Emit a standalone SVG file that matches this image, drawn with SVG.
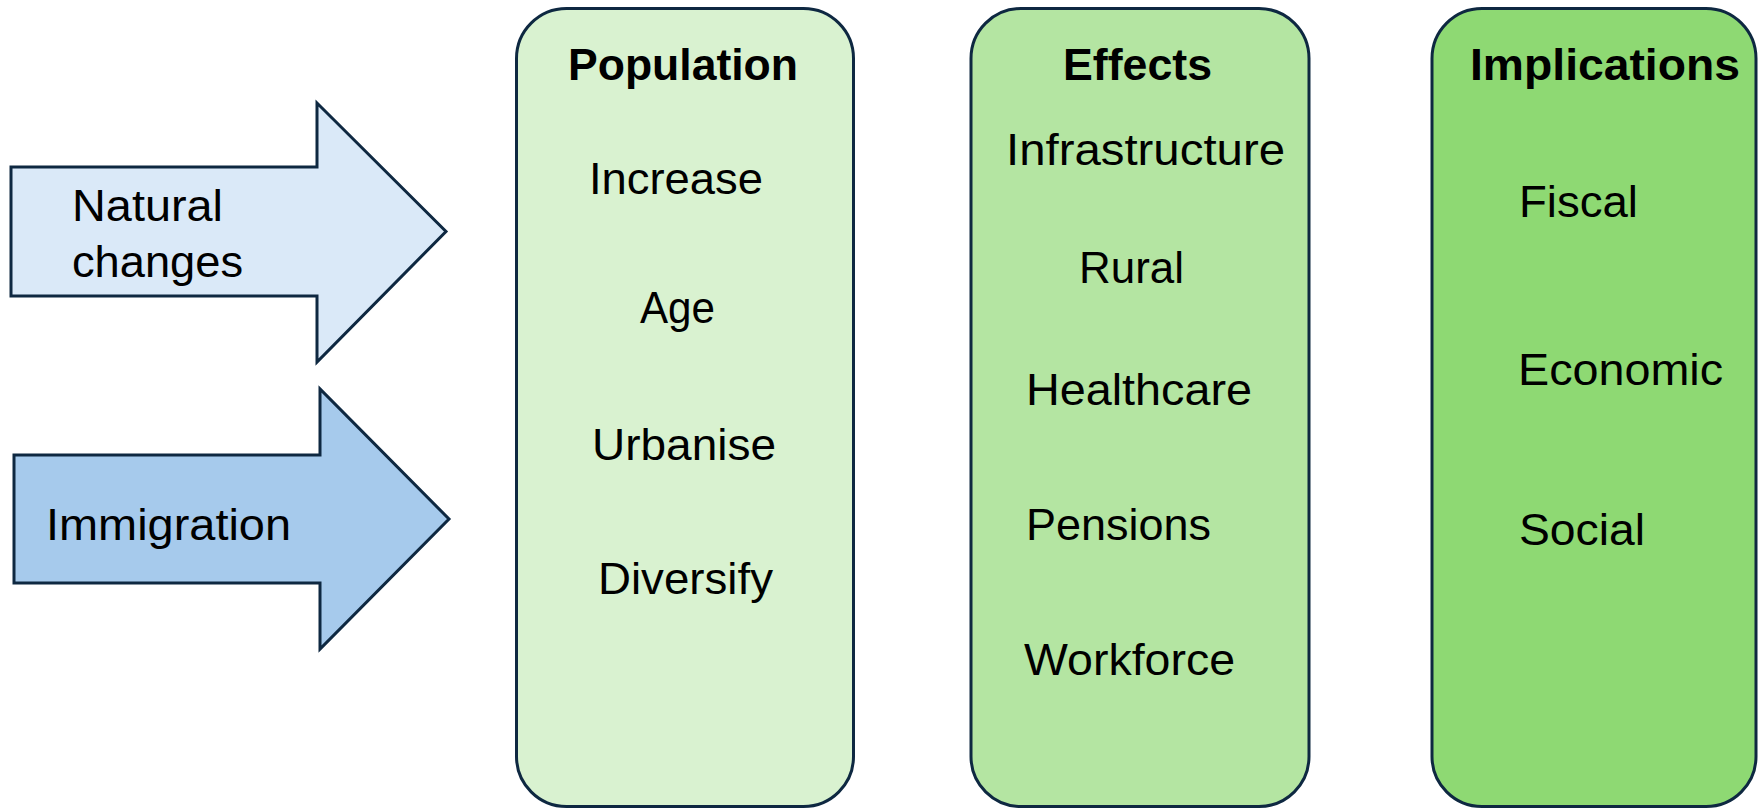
<svg xmlns="http://www.w3.org/2000/svg" width="1760" height="808" viewBox="0 0 1760 808">
  <style>
    .shape { stroke: #0e2841; stroke-width: 3; stroke-linejoin: miter; }
    .label { font-family: "Liberation Sans", Arial, sans-serif; font-size: 44px; fill: #000000; }
    .title { font-family: "Liberation Sans", Arial, sans-serif; font-size: 44px; font-weight: bold; fill: #000000; }
  </style>
  <rect width="1760" height="808" fill="#ffffff"/>

  <!-- Input arrows -->
  <g id="connectors">
    <g id="arrow-natural">
      <polygon class="shape" fill="#dae9f8" points="11,167 317,167 317,103 446,231.5 317,362 317,296 11,296"/>
      <text class="label" x="72" y="221" textLength="151" lengthAdjust="spacingAndGlyphs">Natural</text>
      <text class="label" x="72" y="277" textLength="171" lengthAdjust="spacingAndGlyphs">changes</text>
    </g>
    <g id="arrow-immigration">
      <polygon class="shape" fill="#a6caec" points="14,455 320,455 320,389 449,519 320,649 320,583 14,583"/>
      <text class="label" x="46" y="540" textLength="245" lengthAdjust="spacingAndGlyphs">Immigration</text>
    </g>
  </g>

  <!-- Population column -->
  <g id="population">
    <rect class="shape" fill="#d9f2d0" x="516.5" y="8.5" width="337" height="798" rx="50" ry="50"/>
    <text class="title" x="568" y="80" textLength="230" lengthAdjust="spacingAndGlyphs">Population</text>
    <text class="label" x="589" y="194" textLength="174" lengthAdjust="spacingAndGlyphs">Increase</text>
    <text class="label" x="640" y="323" textLength="75" lengthAdjust="spacingAndGlyphs">Age</text>
    <text class="label" x="592" y="460" textLength="184" lengthAdjust="spacingAndGlyphs">Urbanise</text>
    <text class="label" x="598" y="594" textLength="175" lengthAdjust="spacingAndGlyphs">Diversify</text>
  </g>

  <!-- Effects column -->
  <g id="effects">
    <rect class="shape" fill="#b4e5a2" x="971" y="8.5" width="338" height="798" rx="50" ry="50"/>
    <text class="title" x="1063" y="80" textLength="149" lengthAdjust="spacingAndGlyphs">Effects</text>
    <text class="label" x="1006" y="165" textLength="279" lengthAdjust="spacingAndGlyphs">Infrastructure</text>
    <text class="label" x="1079" y="283" textLength="105" lengthAdjust="spacingAndGlyphs">Rural</text>
    <text class="label" x="1026" y="405" textLength="226" lengthAdjust="spacingAndGlyphs">Healthcare</text>
    <text class="label" x="1026" y="540" textLength="185" lengthAdjust="spacingAndGlyphs">Pensions</text>
    <text class="label" x="1024" y="675" textLength="211" lengthAdjust="spacingAndGlyphs">Workforce</text>
  </g>

  <!-- Implications column -->
  <g id="implications">
    <rect class="shape" fill="#8ed973" x="1432" y="8.5" width="324" height="798" rx="50" ry="50"/>
    <text class="title" x="1470" y="80" textLength="270" lengthAdjust="spacingAndGlyphs">Implications</text>
    <text class="label" x="1519" y="217" textLength="119" lengthAdjust="spacingAndGlyphs">Fiscal</text>
    <text class="label" x="1518" y="385" textLength="205" lengthAdjust="spacingAndGlyphs">Economic</text>
    <text class="label" x="1519" y="545" textLength="126" lengthAdjust="spacingAndGlyphs">Social</text>
  </g>
</svg>
